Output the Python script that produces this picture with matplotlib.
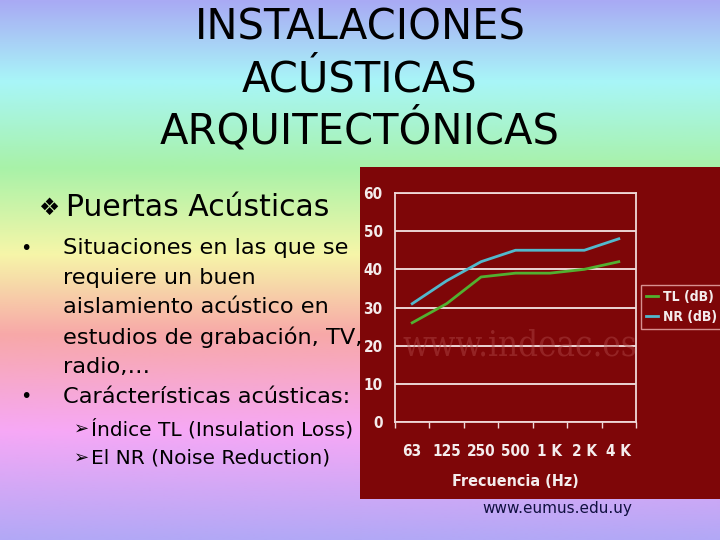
import numpy as np
import matplotlib.pyplot as plt
from matplotlib.colors import LinearSegmentedColormap
from matplotlib.patches import Rectangle

# data
freqs = ['63', '125', '250', '500', '1 K', '2 K', '4 K']
tl_db = [26, 31, 38, 39, 39, 40, 42]
nr_db = [31, 37, 42, 45, 45, 45, 48]
y_ticks = [0, 10, 20, 30, 40, 50, 60]

title_lines = ['INSTALACIONES', 'ACÚSTICAS', 'ARQUITECTÓNICAS']
bullets = ['Situaciones en las que se', 'requiere un buen', 'aislamiento acústico en',
           'estudios de grabación, TV,', 'radio,…']
bullet2 = 'Carácterísticas acústicas:'
sub_items = ['Índice TL (Insulation Loss)', 'El NR (Noise Reduction)']

W, H = 720, 540
fig = plt.figure(figsize=(7.2, 5.4), dpi=100)


def fx(x):
    return x / W


def fy(y):
    return 1 - y / H


# rainbow pastel background
bg = fig.add_axes([0, 0, 1, 1], zorder=-10)
cmap = LinearSegmentedColormap.from_list('slide', [
    (0.0, '#a9aaf4'), (0.15, '#a8f6f8'), (0.31, '#a8f2a8'), (0.47, '#f6f6a8'),
    (0.62, '#f8a8a8'), (0.80, '#f6a8f6'), (1.0, '#b2a8f6')])
bg.imshow(np.linspace(0, 1, 256).reshape(-1, 1), aspect='auto', cmap=cmap,
          extent=[0, 1, 0, 1])
bg.axis('off')

# title
for i, t in enumerate(title_lines):
    fig.text(0.5, fy(28 + 51 * i), t, ha='center', va='center', fontsize=30,
             color='black')

fig.text(fx(38), fy(208), '❖', ha='left', va='center', fontsize=17)
fig.text(fx(66), fy(208), 'Puertas Acústicas', ha='left', va='center',
         fontsize=21.5, color='black')

ys = [248, 278, 307, 337, 367]
fig.text(fx(20), fy(ys[0]), '•', ha='left', va='center', fontsize=14)
for y, t in zip(ys, bullets):
    fig.text(fx(63), fy(y), t, ha='left', va='center', fontsize=16.2)
fig.text(fx(20), fy(397), '•', ha='left', va='center', fontsize=14)
fig.text(fx(63), fy(397), bullet2, ha='left', va='center', fontsize=16.2)
for y, t in zip([429, 458], sub_items):
    fig.text(fx(74), fy(y), '➢', ha='left', va='center', fontsize=13)
    fig.text(fx(91), fy(y), t, ha='left', va='center', fontsize=14.5)

# dark red chart panel
red = '#7e0608'
fig.patches.append(Rectangle((fx(360), fy(499)), fx(360), fy(167) - fy(499),
                             transform=fig.transFigure, facecolor=red,
                             edgecolor='none', zorder=0))

ax = fig.add_axes([fx(395), fy(422), fx(636 - 395), fy(193) - fy(422)], zorder=2)
ax.set_facecolor(red)
x = np.arange(len(freqs))
ax.plot(x, tl_db, color='#52b030', lw=2, label='TL (dB)', zorder=3)
ax.plot(x, nr_db, color='#52b8cc', lw=2, label='NR (dB)', zorder=3)
ax.set_xlim(-0.5, len(freqs) - 0.5)
ax.set_ylim(0, 60)
ax.grid(axis='y', color='#f4e4e4', lw=1.3)
ax.set_axisbelow(True)
for s in ax.spines.values():
    s.set_color('#f0d8d8')
    s.set_linewidth(1.3)

lab = dict(family='DejaVu Sans', stretch='condensed', weight='bold')
ax.set_xticks(x)
ax.set_xticklabels(freqs, **lab)
ax.set_yticks(y_ticks)
ax.set_yticklabels([str(v) for v in y_ticks], **lab)
ax.set_xticks(np.arange(-0.5, len(freqs)), minor=True)
ax.tick_params(axis='x', which='major', length=0, pad=16, colors='#f4ecec',
               labelsize=11)
ax.tick_params(axis='x', which='minor', length=4, color='#f0d8d8', width=1)
ax.tick_params(axis='y', length=0, pad=9, colors='#f4ecec', labelsize=11)
ax.set_xlabel('Frecuencia (Hz)', color='#f4ecec', fontsize=11.5, labelpad=11,
              **lab)

# watermark
ax.text(0.52, 20 / 60, 'www.indeac.es', transform=ax.transAxes, ha='center',
        va='center', family='DejaVu Serif', stretch='condensed', fontsize=25,
        color='#b04848', alpha=0.45, zorder=4)

leg = ax.legend(loc='center left', bbox_to_anchor=(fx(641), fy(307)),
                bbox_transform=fig.transFigure, frameon=True, fancybox=False,
                facecolor=red, edgecolor='#d89090', framealpha=1,
                handlelength=0.9, handletextpad=0.3, borderpad=0.35,
                labelspacing=0.45, borderaxespad=0,
                prop=dict(size=10, **lab))
for t in leg.get_texts():
    t.set_color('#f4ecec')

fig.text(fx(557), fy(508), 'www.eumus.edu.uy', ha='center', va='center',
         fontsize=11, color='#101040')

fig.savefig('out.png', dpi=100)
